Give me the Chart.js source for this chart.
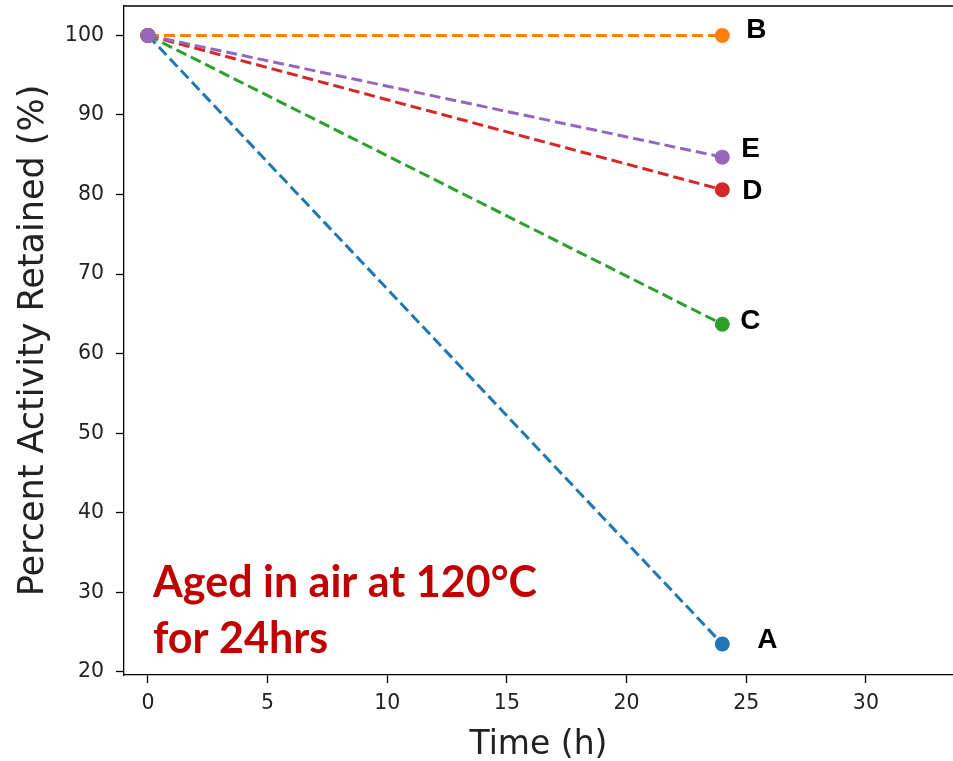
<!DOCTYPE html>
<html>
<head>
<meta charset="utf-8">
<title>Percent Activity Retained</title>
<script src="https://cdn.jsdelivr.net/npm/chart.js@4.4.1/dist/chart.umd.min.js"></script>
<style>
    html, body { margin: 0; padding: 0; background: #fff; overflow: hidden; }
    #wrap { width: 953px; height: 761px; }
    canvas { display: block; }
</style>
</head>
<body>
<div id="wrap"><canvas id="c" width="953" height="761"></canvas></div>
<script>
    // ── data ──
    var times = [0, 24];
    var seriesNames = ['A', 'B', 'C', 'D', 'E'];
    var seriesA = [100, 23.5];
    var seriesB = [100, 100];
    var seriesC = [100, 63.7];
    var seriesD = [100, 80.6];
    var seriesE = [100, 84.7];
    var xTicks = [0, 5, 10, 15, 20, 25, 30];
    var yTicks = [20, 30, 40, 50, 60, 70, 80, 90, 100];
    var note = ['Aged in air at 120°C', 'for 24hrs'];

    // matplotlib tab10
    var colors = ['#1f77b4', '#ff7f0e', '#2ca02c', '#d62728', '#9467bd'];

    // offset of the end label from the last point (px)
    var labelOffset = {
        A: [35, -4], B: [24, -5], C: [18, -3], D: [20, 2], E: [19, -8]
    };

    function pts(vals) {
        return times.map(function (t, i) { return { x: t, y: vals[i] }; });
    }

    var allSeries = [seriesA, seriesB, seriesC, seriesD, seriesE];
    var datasets = allSeries.map(function (vals, i) {
        return {
            label: seriesNames[i],
            data: pts(vals),
            borderColor: colors[i],
            backgroundColor: colors[i],
            borderWidth: 3,
            borderDash: [11, 5],
            pointRadius: 7.5,
            pointHoverRadius: 7.5,
            pointBorderWidth: 0,
            clip: false,
            order: 5 - i
        };
    });

    /* frame top + end labels + note */
    var extras = {
        id: 'extras',
        afterDatasetsDraw: function (chart) {
            var ctx = chart.ctx, a = chart.chartArea;
            ctx.save();
            ctx.strokeStyle = '#000';
            ctx.lineWidth = 1.3;
            ctx.beginPath();
            ctx.moveTo(a.left, a.top);
            ctx.lineTo(a.right, a.top);
            ctx.stroke();

            ctx.fillStyle = '#000';
            ctx.font = "bold 28px 'Liberation Sans', Arial, sans-serif";
            ctx.textBaseline = 'middle';
            ctx.textAlign = 'left';
            chart.data.datasets.forEach(function (ds, i) {
                var meta = chart.getDatasetMeta(i);
                var p = meta.data[meta.data.length - 1];
                var off = labelOffset[ds.label];
                ctx.fillText(ds.label, p.x + off[0], p.y + off[1]);
            });

            ctx.fillStyle = '#c00000';
            ctx.font = "bold 43px Lato, 'Open Sans', sans-serif";
            ctx.textBaseline = 'alphabetic';
            ctx.fillText(note[0], a.left + 29, 597);
            ctx.fillText(note[1], a.left + 29, 653);
            ctx.restore();
        }
    };

    var tickFont = { family: "'DejaVu Sans', sans-serif", size: 20.5 };

    new Chart(document.getElementById('c'), {
        type: 'line',
        data: { datasets: datasets },
        options: {
            responsive: false,
            animation: false,
            layout: { autoPadding: false, padding: { left: 0, right: 0, top: 6, bottom: 0 } },
            plugins: {
                legend: { display: false },
                tooltip: { enabled: false }
            },
            scales: {
                x: {
                    type: 'linear',
                    min: -1,
                    max: 33.64,
                    afterBuildTicks: function (s) {
                        s.ticks = xTicks.map(function (v) { return { value: v }; });
                    },
                    afterFit: function (s) {
                        s.height = 86;
                        s.paddingLeft = 0;
                        s.paddingRight = 0;
                    },
                    ticks: { color: '#222', font: tickFont, padding: 8, maxRotation: 0 },
                    grid: { display: true, drawOnChartArea: false, drawTicks: true, tickLength: 8, tickColor: '#000', tickWidth: 1.3 },
                    border: { display: true, color: '#000', width: 1.3 },
                    title: { display: true, text: 'Time (h)', color: '#222', font: { family: "'DejaVu Sans', sans-serif", size: 33 }, padding: { top: 0, bottom: -4 } }
                },
                y: {
                    type: 'linear',
                    min: 19.6,
                    max: 103.7,
                    afterBuildTicks: function (s) {
                        s.ticks = yTicks.map(function (v) { return { value: v }; });
                    },
                    afterFit: function (s) {
                        s.width = 124;
                        s.paddingTop = 0;
                        s.paddingBottom = 0;
                    },
                    ticks: { color: '#222', font: tickFont, padding: 12 },
                    grid: { display: true, drawOnChartArea: false, drawTicks: true, tickLength: 8, tickColor: '#000', tickWidth: 1.3 },
                    border: { display: true, color: '#000', width: 1.3 },
                    title: { display: true, text: 'Percent Activity Retained (%)', color: '#222', font: { family: "'DejaVu Sans', sans-serif", size: 35 }, padding: { top: 13, bottom: 0 } }
                }
            }
        },
        plugins: [extras]
    });
</script>
</body>
</html>
